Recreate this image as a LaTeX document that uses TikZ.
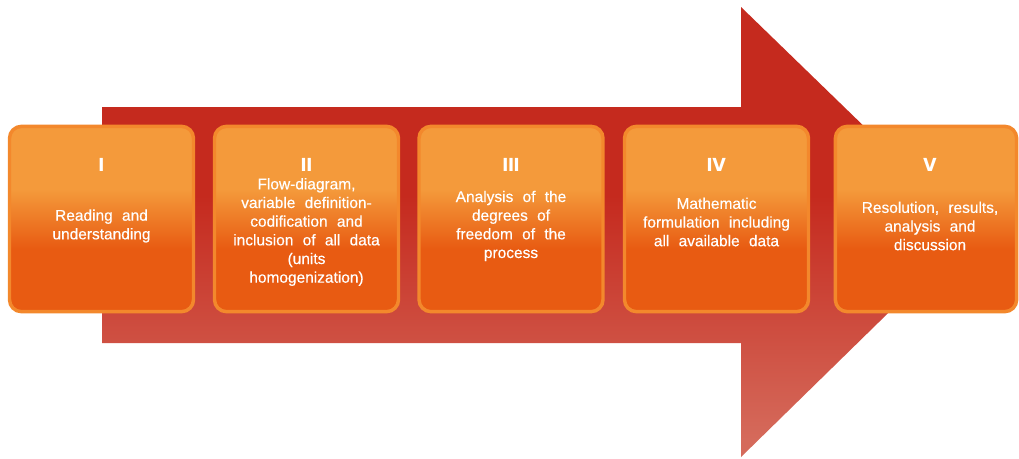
\documentclass[tikz,border=0pt]{standalone}
\usepackage{fontspec}
\setmainfont{Liberation Sans}
\newfontfamily\numfont{Poppins}
\newfontfamily\txtfont[FakeBold=0.4]{Liberation Sans}
\newcommand\wsp{\spaceskip=0.6em plus 0.1em\relax}
\definecolor{bxlight}{HTML}{F49A3B}
\definecolor{bxdark}{HTML}{E85B12}
\definecolor{bxborder}{HTML}{F3882C}
\definecolor{ardark}{HTML}{C52A1E}
\definecolor{arlight}{HTML}{D56A5B}
\pgfdeclareverticalshading{boxshade}{100bp}{color(0bp)=(bxdark); color(42bp)=(bxdark); color(58bp)=(bxlight); color(100bp)=(bxlight)}
\pgfdeclareverticalshading{arrowshade}{100bp}{color(0bp)=(arlight); color(27bp)=(arlight); color(54bp)=(ardark); color(100bp)=(ardark)}
\begin{document}
\begin{tikzpicture}[x=0.75pt,y=-0.75pt,
  stagebox/.style={shade, shading=boxshade, draw=bxborder, line width=2.6pt,
    rounded corners=9pt, minimum width=138pt, minimum height=139pt, inner sep=0pt},
  numstyle/.style={text=white, anchor=base, inner sep=0pt, font=\numfont\bfseries\fontsize{14}{16}\selectfont},
  txtstyle/.style={text=white, align=center, inner sep=0pt,
    font=\txtfont\fontsize{11.6}{14}\selectfont, execute at begin node=\wsp}]
\useasboundingbox (0,0) rectangle (1019,458);
% big arrow
\shade[shading=arrowshade] (102,107) -- (741,107) -- (741,7) -- (972,231) -- (741,457) -- (741,343) -- (102,343) -- cycle;
% boxes
\node[stagebox] (b1) at (101.5,219) {};
\node[stagebox] (b2) at (306.5,219) {};
\node[stagebox] (b3) at (511,219) {};
\node[stagebox] (b4) at (716.5,219) {};
\node[stagebox, minimum width=136pt] (b5) at (926,219) {};
% numerals
\node[numstyle] (n1) at (101.5,171.5) {I};
\node[numstyle] (n2) at (306.5,171.5) {II};
\node[numstyle] (n3) at (511,171.5) {III};
\node[numstyle] (n4) at (716.5,171.5) {IV};
\node[numstyle] (n5) at (930,171.5) {V};
% texts
\node[txtstyle] (t1) at (101.5,226) {Reading and\\understanding};
\node[txtstyle] (t2) at (306.5,232) {Flow-diagram,\\variable definition-\\codification and\\inclusion of all data\\(units\\homogenization)};
\node[txtstyle] (t3) at (511,226) {Analysis of the\\degrees of\\freedom of the\\process};
\node[txtstyle] (t4) at (716.5,222) {Mathematic\\formulation including\\all available data};
\node[txtstyle] (t5) at (930,226) {Resolution, results,\\analysis and\\discussion};
\end{tikzpicture}
\end{document}
